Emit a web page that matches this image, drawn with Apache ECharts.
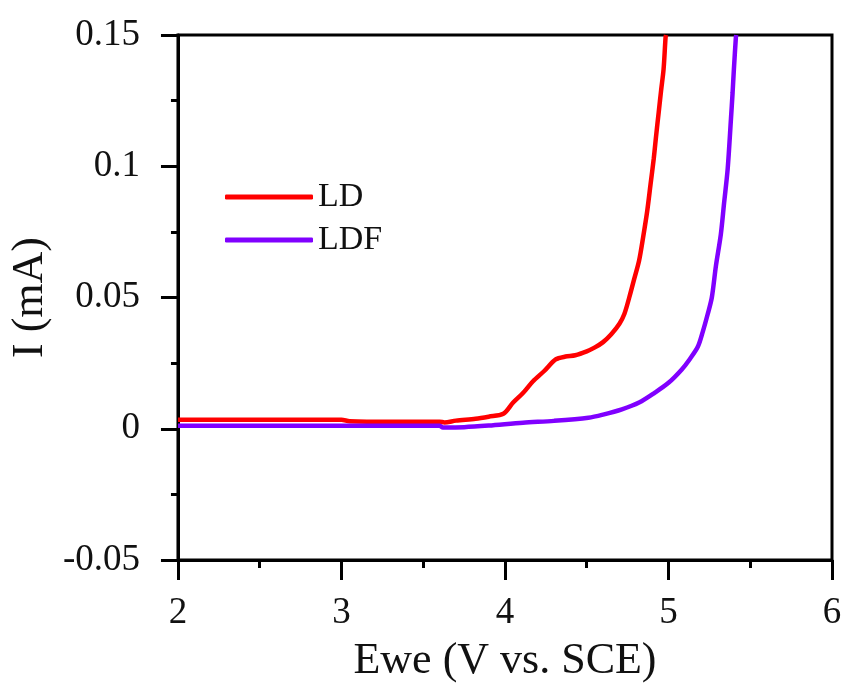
<!DOCTYPE html>
<html>
<head>
<meta charset="utf-8">
<title>LSV: LD vs LDF</title>
<script src="https://cdn.jsdelivr.net/npm/echarts@6/dist/echarts.min.js"></script>
<style>
  html, body { margin: 0; padding: 0; background: #fff; }
  #chart { width: 846px; height: 688px; }
</style>
</head>
<body>
<div id="chart"></div>
<script>
// Potential (V vs. SCE) and current (mA) for each electrolyte
const ldE = [2.0, 3.0, 3.05, 3.3, 3.6, 3.63, 3.7, 3.82, 3.9, 3.99, 4.05, 4.11, 4.17, 4.24, 4.31, 4.37, 4.43, 4.5, 4.55, 4.6, 4.65, 4.7, 4.73, 4.76, 4.79, 4.82, 4.845, 4.87, 4.89, 4.91, 4.925, 4.94, 4.955, 4.97, 4.982, 4.985];
const ldI = [0.0034, 0.0034, 0.0029, 0.0027, 0.0027, 0.0024, 0.0031, 0.0038, 0.0046, 0.0057, 0.0100, 0.0136, 0.0180, 0.0220, 0.0264, 0.0275, 0.0280, 0.0295, 0.0310, 0.0330, 0.0360, 0.0400, 0.0437, 0.0500, 0.0570, 0.0640, 0.0730, 0.0830, 0.0930, 0.1030, 0.1120, 0.1205, 0.1290, 0.1370, 0.1490, 0.1500];

const ldfE = [2.0, 3.0, 3.6, 3.62, 3.75, 3.9, 4.11, 4.3, 4.51, 4.6, 4.715, 4.82, 4.915, 5.0, 5.08, 5.13, 5.18, 5.21, 5.24, 5.265, 5.29, 5.32, 5.34, 5.362, 5.382, 5.392, 5.4, 5.412, 5.414];
const ldfI = [0.0011, 0.0011, 0.0011, 0.0005, 0.0006, 0.0012, 0.0023, 0.0030, 0.0042, 0.0054, 0.0074, 0.0100, 0.0137, 0.0175, 0.0225, 0.0265, 0.0313, 0.0370, 0.0437, 0.0500, 0.0620, 0.0740, 0.0860, 0.0990, 0.1180, 0.1280, 0.1370, 0.1490, 0.1500];

const seriesNames = ['LD', 'LDF'];
const seriesColors = ['#ff0000', '#8000ff'];

const xTitle = 'Ewe (V vs. SCE)';
const yTitle = 'I (mA)';

const FONT = '"Liberation Serif", "Times New Roman", serif';

const zip = (xs, ys) => xs.map((x, i) => [x, ys[i]]);

const chart = echarts.init(document.getElementById('chart'), null, { renderer: 'canvas' });

const tickLabel = { fontFamily: FONT, fontSize: 37, color: '#111' };

chart.setOption({
  animation: false,
  backgroundColor: '#fff',
  grid: {
    left: 172, top: 35, right: 14, bottom: 122,
    show: true, borderColor: '#000', borderWidth: 3, backgroundColor: 'transparent'
  },
  legend: {
    left: 220, top: 175,
    orient: 'vertical',
    itemWidth: 88, itemHeight: 5,
    itemGap: 9,
    icon: 'roundRect',
    textStyle: { fontFamily: FONT, fontSize: 34, color: '#111', lineHeight: 34, padding: [0, 0, 0, 0] },
    data: seriesNames
  },
  xAxis: {
    type: 'value',
    min: 2, max: 6, interval: 1,
    name: xTitle,
    nameLocation: 'middle',
    nameGap: 79,
    nameTextStyle: { fontFamily: FONT, fontSize: 44, color: '#111' },
    axisLine: { show: true, onZero: false, lineStyle: { color: '#000', width: 3 } },
    axisTick: { show: true, inside: false, length: 20, lineStyle: { color: '#000', width: 3 } },
    minorTick: { show: true, splitNumber: 2, length: 8, lineStyle: { color: '#000', width: 3 } },
    splitLine: { show: false },
    axisLabel: Object.assign({ margin: 35 }, tickLabel)
  },
  yAxis: {
    type: 'value',
    min: -0.05, max: 0.15, interval: 0.05,
    name: yTitle,
    nameLocation: 'middle',
    nameGap: 116,
    nameRotate: 90,
    nameTextStyle: { fontFamily: FONT, fontSize: 44, color: '#111' },
    axisLine: { show: true, onZero: false, lineStyle: { color: '#000', width: 3 } },
    axisTick: { show: true, inside: false, length: 17, lineStyle: { color: '#000', width: 3 } },
    minorTick: { show: true, splitNumber: 2, length: 7, lineStyle: { color: '#000', width: 3 } },
    splitLine: { show: false },
    axisLabel: Object.assign({ margin: 38 }, tickLabel)
  },
  series: [
    {
      name: seriesNames[0], type: 'line', data: zip(ldE, ldI),
      showSymbol: false, smooth: 0.3, clip: true,
      itemStyle: { color: seriesColors[0] },
      lineStyle: { color: seriesColors[0], width: 4.5 }
    },
    {
      name: seriesNames[1], type: 'line', data: zip(ldfE, ldfI),
      showSymbol: false, smooth: 0.3, clip: true,
      itemStyle: { color: seriesColors[1] },
      lineStyle: { color: seriesColors[1], width: 4.5 }
    }
  ]
});
</script>
</body>
</html>
